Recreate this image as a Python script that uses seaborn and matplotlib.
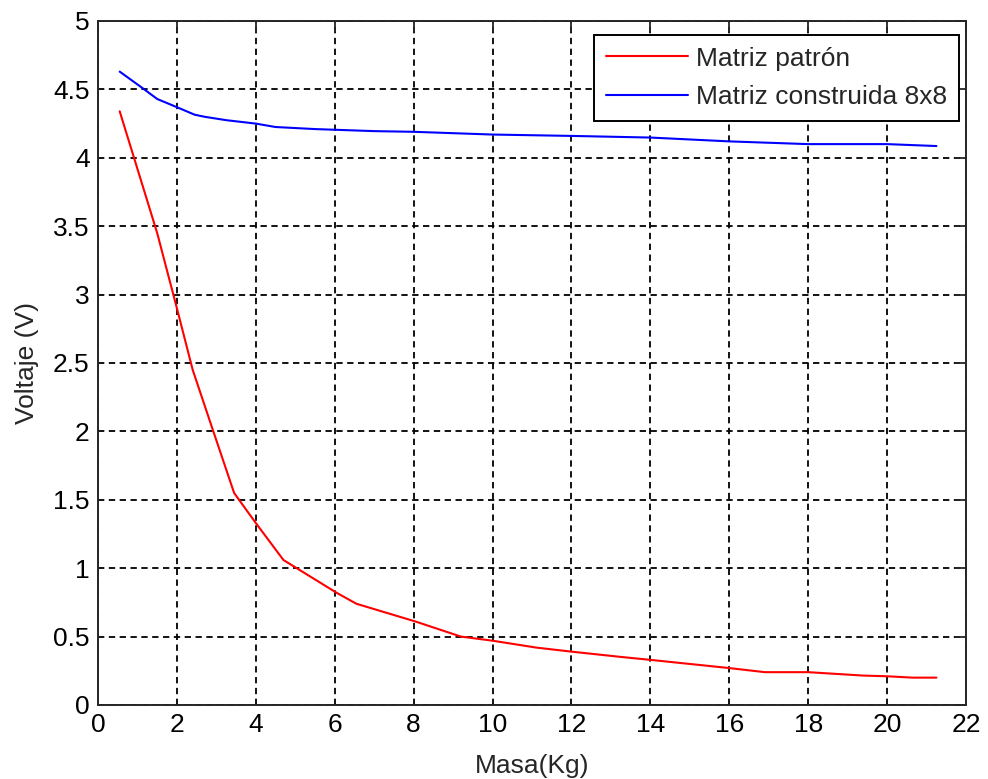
import matplotlib
matplotlib.use("Agg")
import matplotlib.pyplot as plt
import seaborn as sns
import pandas as pd

# Masa (kg) vs. voltaje (V) for the two sensor matrices
masa_patron = [0.55, 1.5, 2.0, 2.4, 2.9, 3.45, 4.0, 4.7, 6.05, 6.55, 8.05, 9.2,
               10.0, 11.1, 12.0, 13.3, 14.0, 16.0, 16.9, 18.0, 19.4, 20.0, 20.65, 21.25]
volt_patron = [4.34, 3.45, 2.9, 2.45, 2.02, 1.55, 1.33, 1.06, 0.82, 0.74, 0.61, 0.5,
               0.47, 0.42, 0.39, 0.35, 0.33, 0.27, 0.24, 0.24, 0.215, 0.21, 0.2, 0.2]

masa_8x8 = [0.55, 1.15, 1.5, 2.0, 2.45, 2.7, 3.25, 4.0, 4.5, 5.5, 7.0, 8.0,
            10.0, 12.0, 14.0, 16.0, 18.0, 20.0, 21.25]
volt_8x8 = [4.63, 4.505, 4.43, 4.37, 4.315, 4.30, 4.275, 4.25, 4.225, 4.21, 4.195, 4.19,
            4.17, 4.16, 4.148, 4.12, 4.10, 4.10, 4.086]

x_ticks = list(range(0, 23, 2))
y_ticks = [0, 0.5, 1, 1.5, 2, 2.5, 3, 3.5, 4, 4.5, 5]
y_labels = ["0", "0.5", "1", "1.5", "2", "2.5", "3", "3.5", "4", "4.5", "5"]

df = pd.concat([
    pd.DataFrame({"Masa": masa_patron, "Voltaje": volt_patron, "Serie": "Matriz patrón"}),
    pd.DataFrame({"Masa": masa_8x8, "Voltaje": volt_8x8, "Serie": "Matriz construida 8x8"}),
], ignore_index=True)

sns.set_style("white")
plt.rcParams["font.family"] = ["Liberation Sans", "DejaVu Sans"]
plt.rcParams["font.size"] = 19

fig = plt.figure(figsize=(9.88, 7.79), dpi=100)
ax = fig.add_axes([98 / 988, 1 - 705 / 779, (966 - 98) / 988, (705 - 21) / 779])

sns.lineplot(data=df, x="Masa", y="Voltaje", hue="Serie",
             palette={"Matriz patrón": "#ff0000", "Matriz construida 8x8": "#0000ff"},
             sort=False, estimator=None, linewidth=1.5, ax=ax)

ax.set_xlim(0, 22)
ax.set_ylim(0, 5)
ax.set_xticks(x_ticks)
ax.set_xticklabels([str(t) for t in x_ticks])
ax.set_yticks(y_ticks)
ax.set_yticklabels(y_labels)

ax.grid(True, color="black", linestyle=(0, (3.5, 2.5)), linewidth=1.3)
ax.set_axisbelow(True)
for s in ax.spines.values():
    s.set_visible(True)
    s.set_color("#262626")
    s.set_linewidth(1.4)
ax.tick_params(direction="in", length=8, width=1.3, top=True, right=True,
               labelsize=19, colors="#262626", labelcolor="black", pad=6)

ax.set_xlabel("Masa(Kg)", fontsize=19, labelpad=12)
ax.set_ylabel("Voltaje (V)", fontsize=19, labelpad=10)

leg = ax.legend(loc="upper right", bbox_to_anchor=(0.992, 0.98), frameon=True,
                fancybox=False, edgecolor="black", framealpha=1, fontsize=19,
                handlelength=3.1, handletextpad=0.3, borderpad=0.45,
                labelspacing=0.55, borderaxespad=0)
leg.get_frame().set_linewidth(1.4)

fig.savefig("out.png", dpi=100, facecolor="white")
